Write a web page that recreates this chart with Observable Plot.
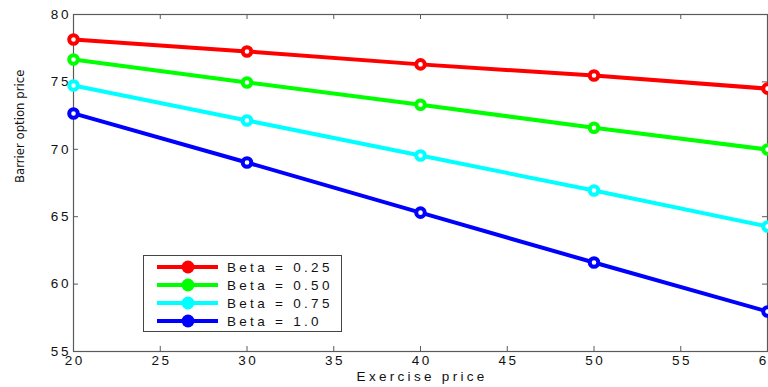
<!DOCTYPE html>
<html><head>
<meta charset="utf-8">
<script src="https://cdn.jsdelivr.net/npm/d3@7"></script>
<script src="https://cdn.jsdelivr.net/npm/@observablehq/plot@0.6"></script>
<style>
body{margin:0;background:#fff}
#wrap{position:relative;width:768px;height:387px;overflow:hidden}
#legend{position:absolute;left:143px;top:255px;width:197px;height:75px;border:1px solid #444;background:#fff;
  font-family:"Liberation Sans",Arial,sans-serif;font-size:13.5px;letter-spacing:3.3px;color:#111}
.row{position:absolute;left:0;height:18px;display:flex;align-items:center}
.row svg{margin-left:13px;margin-right:8px}
</style>
</head><body><div id="wrap"></div>
<script>
const exercisePrice = [20, 30, 40, 50, 60];
const seriesNames = ["Beta = 0.25", "Beta = 0.50", "Beta = 0.75", "Beta = 1.0"];
const beta025 = [78.15, 77.26, 76.30, 75.47, 74.50];
const beta050 = [76.66, 74.96, 73.30, 71.60, 69.98];
const beta075 = [74.73, 72.14, 69.54, 66.94, 64.27];
const beta100 = [72.66, 69.02, 65.30, 61.60, 57.97];
const seriesColors = ["#ff0000", "#00ff00", "#00ffff", "#0000ff"];
const xTicks = [20, 25, 30, 35, 40, 45, 50, 55, 60];
const yTicks = [55, 60, 65, 70, 75, 80];
const xLabel = "Exercise price";
const yLabel = "Barrier option price";

const seriesValues = [beta025, beta050, beta075, beta100];
const data = [];
seriesNames.forEach((name, s) => {
  exercisePrice.forEach((x, i) => data.push({series: name, x, y: seriesValues[s][i]}));
});

const W = 768, H = 387, mL = 73, mR = 1, mT = 14, mB = 36;
const pw = W - mL - mR, ph = H - mT - mB;
const tick = 5;

const chart = Plot.plot({
  width: W, height: H,
  marginLeft: mL, marginRight: mR, marginTop: mT, marginBottom: mB,
  style: {fontFamily: "'Liberation Sans', Arial, sans-serif", fontSize: "13.5px", color: "#111", background: "#fff", overflow: "hidden"},
  x: {domain: [xTicks[0], xTicks[xTicks.length - 1]]},
  y: {domain: [yTicks[0], yTicks[yTicks.length - 1]]},
  color: {domain: seriesNames, range: seriesColors},
  marks: [
    Plot.frame({stroke: "#5a5a5a", strokeWidth: 1.2}),
    Plot.ruleX(xTicks, {x: d => d, insetTop: ph - tick, stroke: "#5a5a5a"}),
    Plot.ruleX(xTicks, {x: d => d, insetBottom: ph - tick, stroke: "#5a5a5a"}),
    Plot.ruleY(yTicks, {y: d => d, insetRight: pw - tick, stroke: "#5a5a5a"}),
    Plot.ruleY(yTicks, {y: d => d, insetLeft: pw - tick, stroke: "#5a5a5a"}),
    Plot.axisX({ticks: xTicks, tickSize: 0, tickPadding: 4, label: null, fontSize: 13.5, dx: 1.3, tickFormat: d => String(d)}),
    Plot.axisY({ticks: yTicks, tickSize: 0, tickPadding: 5, label: null, fontSize: 13.5, dx: 2.5, tickFormat: d => String(d)}),
    Plot.text([xLabel], {text: d => d, frameAnchor: "bottom", dy: 29.5, dx: 1.6, fontSize: 13.5, fill: "#111"}),
    Plot.text([yLabel], {text: d => d, frameAnchor: "left", rotate: -90, dx: -54, fontSize: 13, fill: "#111",
      fontFamily: "'Liberation Sans Narrow', 'DejaVu Sans Condensed', sans-serif"}),
    Plot.line(data, {x: "x", y: "y", z: "series", stroke: "series", strokeWidth: 4}),
    Plot.dot(data, {x: "x", y: "y", stroke: "series", fill: "#fff", r: 4.3, strokeWidth: 4})
  ]
});
chart.querySelectorAll("g[aria-label='x-axis tick label'] text").forEach(t => t.style.letterSpacing = "2.6px");
chart.querySelectorAll("g[aria-label='y-axis tick label'] text").forEach(t => t.style.letterSpacing = "2.6px");
chart.querySelectorAll("g[aria-label='text'] text").forEach(t => { if (t.textContent === xLabel) t.style.letterSpacing = "3.3px"; });
const wrap = document.getElementById("wrap");
wrap.appendChild(chart);

const legend = document.createElement("div");
legend.id = "legend";
seriesNames.forEach((name, i) => {
  const row = document.createElement("div");
  row.className = "row";
  row.style.top = (2 + i * 18) + "px";
  row.innerHTML = `<svg width="62" height="16"><line x1="0" y1="8" x2="61" y2="8" stroke="${seriesColors[i]}" stroke-width="4"/><circle cx="31" cy="8" r="6.5" fill="${seriesColors[i]}"/></svg><span>${name}</span>`;
  legend.appendChild(row);
});
wrap.appendChild(legend);
</script>
</body></html>
